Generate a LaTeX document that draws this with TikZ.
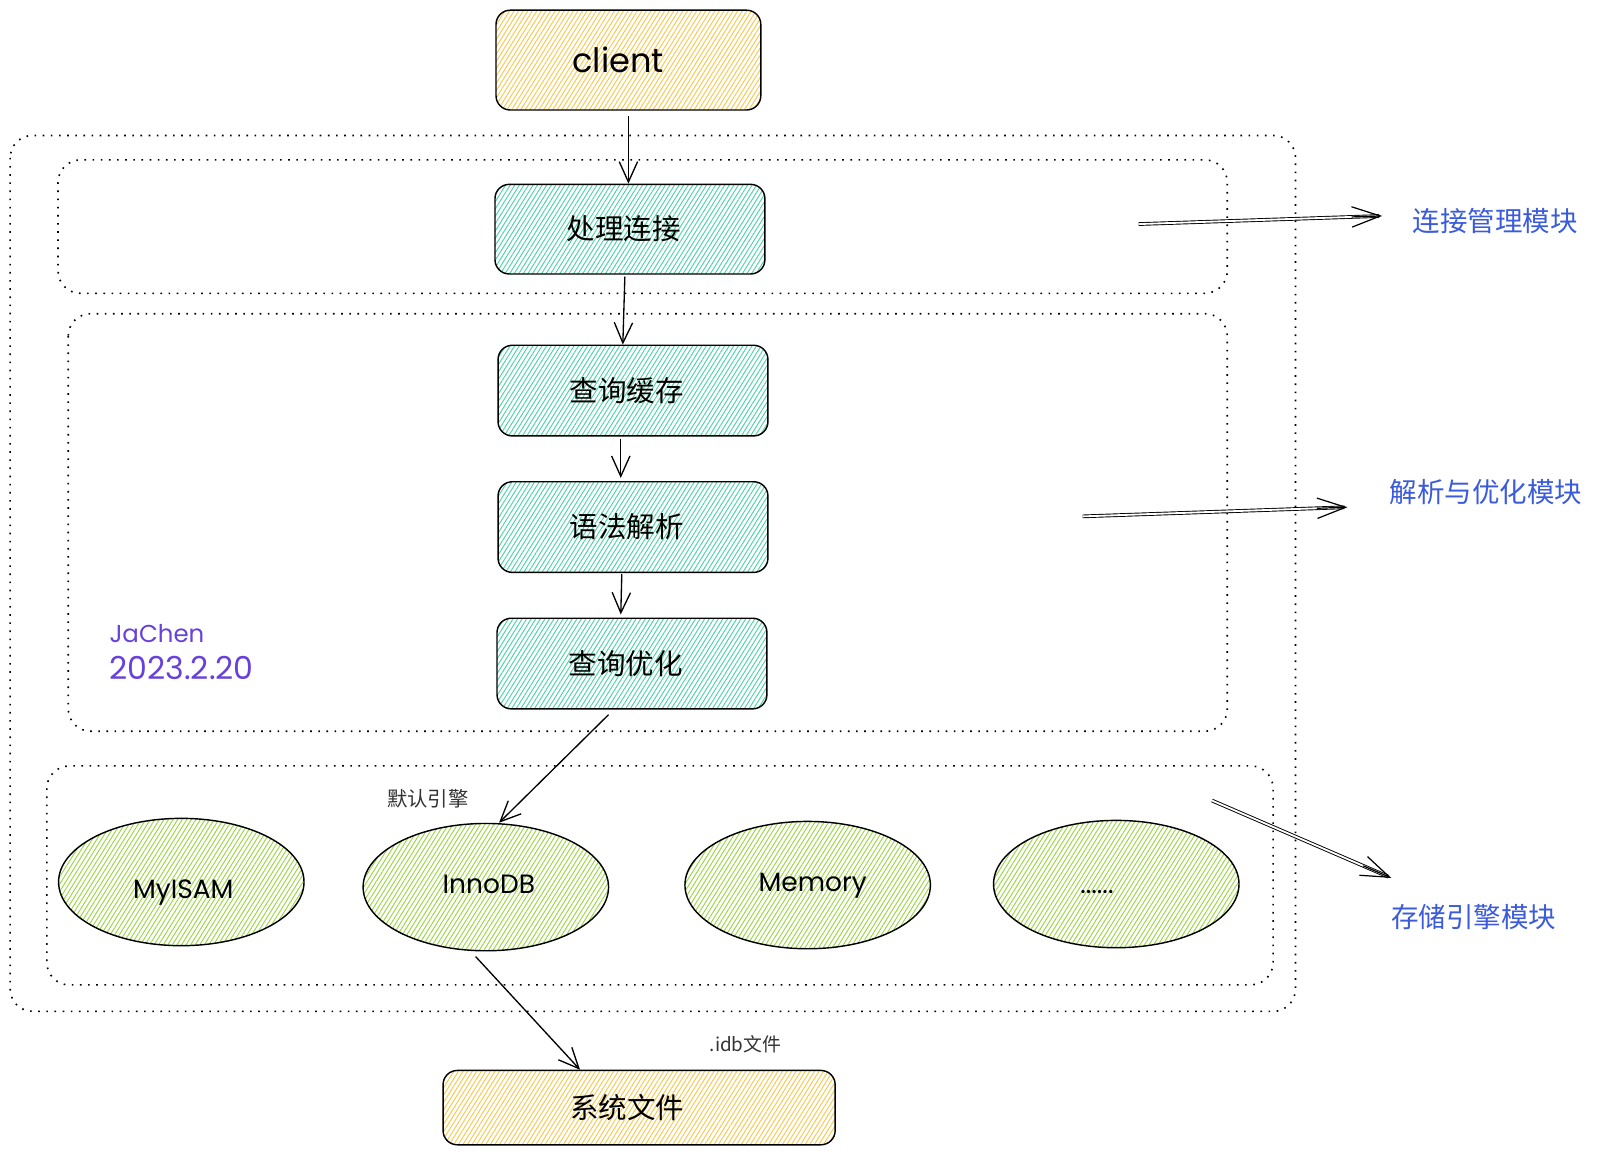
\documentclass[tikz,border=0pt]{standalone}
\usepackage{fontspec}
\setmainfont{Poppins}
\newfontfamily\cjk{Noto Sans CJK SC}
\usetikzlibrary{arrows.meta,patterns.meta,shapes.geometric,calc}
\definecolor{hyellow}{RGB}{250,200,80}
\definecolor{hteal}{RGB}{80,210,170}
\definecolor{hgreen}{RGB}{155,215,70}
\definecolor{mblue}{RGB}{59,91,219}
\definecolor{mpurple}{RGB}{103,65,217}
\tikzset{
  hatch/.style={pattern={Lines[angle=58,distance=3.8pt,line width=0.95pt]}},
  boxbase/.style={draw=black, line width=1.4pt, rounded corners=14pt, minimum width=265pt, minimum height=89pt, inner sep=0pt},
  yellowbox/.style={boxbase, hatch, pattern color=hyellow},
  tealbox/.style={boxbase, hatch, pattern color=hteal, font=\cjk\fontsize{28}{32}\selectfont, execute at end node={\hspace*{12pt}}},
  engine/.style={ellipse, draw=black, line width=1.4pt, minimum width=241pt, minimum height=125pt, inner sep=0pt, hatch, pattern color=hgreen},
  etext/.style={font=\fontsize{26}{30}\selectfont, inner sep=0pt},
  dotbox/.style={draw=black, line width=1.6pt, dash pattern=on 1.6pt off 6.4pt, rounded corners=22pt},
  flow/.style={draw=black, line width=1.3pt, -{Straight Barb[length=20pt,width=18pt,line width=1.3pt]}},
  modlabel/.style={font=\cjk\fontsize{27}{32}\selectfont, text=mblue},
  small/.style={font=\cjk\fontsize{20}{24}\selectfont, text=black!80},
  sidearrow/.style={draw=black, line width=0.9pt, double distance=1.8pt},
  sidetip/.style={draw=black, line width=1.2pt, -{Straight Barb[length=28pt,width=20pt,line width=1.2pt]}}
}
\begin{document}
\begin{tikzpicture}[x=1pt,y=-1pt]
\useasboundingbox[fill=white] (0,0) rectangle (1568,1134);

% dotted group boxes
\draw[dotbox] (10,133) rectangle (1272,993);
\draw[dotbox] (57,157) rectangle (1205,288);
\draw[dotbox] (67,308) rectangle (1205,718);
\draw[dotbox] (46,752) rectangle (1250,967);

% main boxes
\node[yellowbox, minimum width=260pt, minimum height=98pt, font=\fontsize{33}{36}\selectfont] (client) at (617,59) {client\hspace*{20pt}};
\node[tealbox, minimum height=88pt] (conn) at (618.5,225) {处理连接};
\node[tealbox] (cache) at (621.5,383.5) {查询缓存};
\node[tealbox] (parse) at (621.5,517.5) {语法解析};
\node[tealbox] (opt) at (620.5,651.5) {查询优化};
\node[yellowbox, minimum width=385pt, minimum height=73pt, font=\cjk\fontsize{28}{32}\selectfont] (sys) at (627.5,1087.5) {系统文件\hspace*{23pt}};

% engines
\node[engine, label={[etext, xshift=2pt, yshift=-10pt]center:MyISAM}] (myisam) at (178,866) {};
\node[engine, label={[etext, xshift=3pt, yshift=3pt]center:InnoDB}] (innodb) at (477,871) {};
\node[engine, label={[etext, xshift=5pt, yshift=-1pt]center:Memory}] (memory) at (793,869) {};
\node[engine, label={[etext, xshift=-19pt, yshift=-8pt]center:......}] (more) at (1096,868) {};

% flow arrows
\draw[flow] ($(client.south)+(0,5)$) -- (conn.north -| client.south);
\draw[flow] ($(conn.south)+(-5,2)$) -- ($(cache.north)+(-10,0)$);
\draw[flow] ($(cache.south)+(-12,2)$) -- ($(parse.north)+(-12,-3)$);
\draw[flow] ($(parse.south)+(-11,1)$) -- ($(opt.north)+(-11,-3)$);
\draw[flow] ($(opt.south)+(-23,5)$) -- ($(innodb.north)+(13,0)$);
\draw[flow] ($(innodb.south)+(-10,5)$) -- ($(sys.north)+(-58,0)$);

\node[small] (lbldef) at (420,784) {默认引擎};
\node[small, font=\cjk\fontsize{18.5}{22}\selectfont] (lblidb) at (732,1025) {.idb文件};

% side module arrows
\coordinate (a1s) at (1118,220);
\coordinate (a1e) at (1357,212);
\coordinate (a2s) at (1063,507);
\coordinate (a2e) at (1323,498);
\coordinate (a3s) at (1190,786);
\coordinate (a3e) at (1366,862);
\draw[sidearrow] (a1s) -- ($(a1e)!3pt!(a1s)$);
\draw[sidetip] ($(a1e)!30pt!(a1s)$) -- (a1e);
\draw[sidearrow] (a2s) -- ($(a2e)!3pt!(a2s)$);
\draw[sidetip] ($(a2e)!30pt!(a2s)$) -- (a2e);
\draw[sidearrow] (a3s) -- ($(a3e)!3pt!(a3s)$);
\draw[sidetip] ($(a3e)!30pt!(a3s)$) -- (a3e);

\node[modlabel] (m1) at (1468,217) {连接管理模块};
\node[modlabel] (m2) at (1459,483) {解析与优化模块};
\node[modlabel] (m3) at (1447,900) {存储引擎模块};

% signature
\node[text=mpurple, font=\fontsize{24}{26}\selectfont, anchor=west] (sig1) at (104,622) {JaChen};
\node[text=mpurple, font=\fontsize{31}{34}\selectfont, anchor=west] (sig2) at (104,656) {2023.2.20};
\end{tikzpicture}
\end{document}
